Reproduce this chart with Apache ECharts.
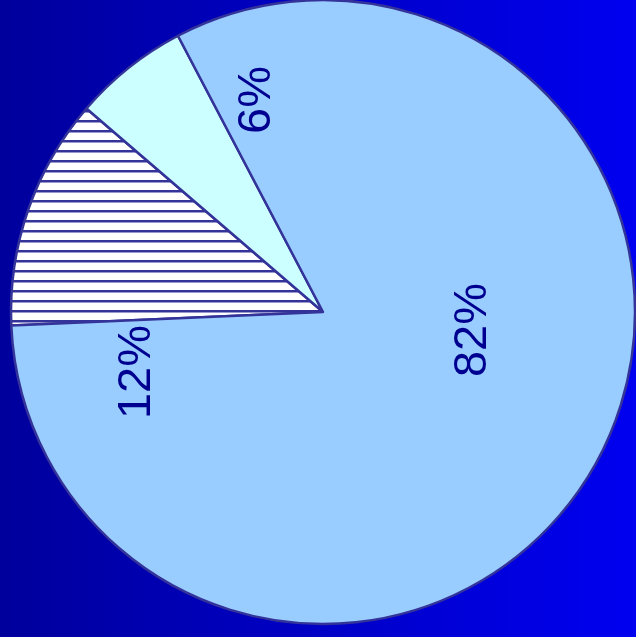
<!DOCTYPE html>
<html>
<head>
<meta charset="utf-8">
<script src="https://cdn.jsdelivr.net/npm/echarts@6/dist/echarts.min.js"></script>
<style>
    html, body { margin: 0; padding: 0; }
    #chart {
        width: 636px;
        height: 637px;
        background: linear-gradient(to right, #00009c, #0000f0);
    }
</style>
</head>
<body>
<div id="chart"></div>
<script>
// 数据
var sliceNames = ['B', 'C', 'A'];
var sliceValues = [12, 6, 82];
var sliceLabels = ['12%', '6%', '82%'];

// 标签位置（图上偏离扇区，按原图摆放）
var labelPos = [[137, 372], [257, 100], [473, 330]];

// 横线填充
function hatchPattern() {
    var c = document.createElement('canvas');
    c.width = 10;
    c.height = 10;
    var ctx = c.getContext('2d');
    ctx.fillStyle = '#ffffff';
    ctx.fillRect(0, 0, 10, 10);
    ctx.fillStyle = '#333399';
    ctx.fillRect(0, 0, 10, 2.5);
    return c;
}

var fills = [{image: hatchPattern(), repeat: 'repeat'}, '#ccffff', '#99ccff'];

var myChart = echarts.init(document.getElementById('chart'));
var data = [];
for (var i = 0; i < sliceValues.length; i++) {
    data.push({
        name: sliceNames[i],
        value: sliceValues[i],
        itemStyle: {color: fills[i]}
    });
}
var option = {
    animation: false,
    series: [{
        type: 'pie',
        center: [323, 312],
        radius: 312,
        startAngle: 182.5,
        clockwise: true,
        silent: true,
        itemStyle: {
            borderColor: '#333399',
            borderWidth: 2.5
        },
        label: {
            show: true,
            position: 'inside',
            rotate: 90,
            color: '#000090',
            fontFamily: 'Liberation Sans',
            fontSize: 47,
            formatter: function (p) {
                return sliceLabels[p.dataIndex];
            }
        },
        labelLine: {show: false},
        labelLayout: function (p) {
            return {
                x: labelPos[p.dataIndex][0],
                y: labelPos[p.dataIndex][1],
                align: 'center',
                verticalAlign: 'middle'
            };
        },
        data: data
    }]
};
myChart.setOption(option);
</script>
</body>
</html>
